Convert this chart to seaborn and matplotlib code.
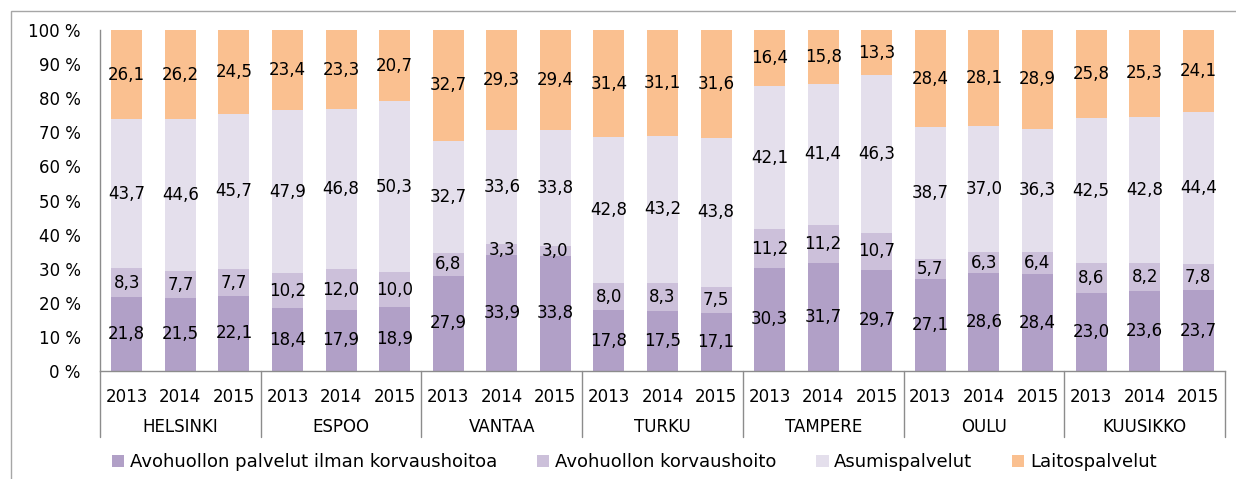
import pandas as pd
import matplotlib.pyplot as plt
import seaborn as sns
from matplotlib.patches import Rectangle
from matplotlib.lines import Line2D

# --- Data ---
cities = ["HELSINKI", "ESPOO", "VANTAA", "TURKU", "TAMPERE", "OULU", "KUUSIKKO"]
years = ["2013", "2014", "2015"]

avohuolto = [21.8, 21.5, 22.1, 18.4, 17.9, 18.9, 27.9, 33.9, 33.8, 17.8, 17.5, 17.1,
             30.3, 31.7, 29.7, 27.1, 28.6, 28.4, 23.0, 23.6, 23.7]
korvaushoito = [8.3, 7.7, 7.7, 10.2, 12.0, 10.0, 6.8, 3.3, 3.0, 8.0, 8.3, 7.5,
                11.2, 11.2, 10.7, 5.7, 6.3, 6.4, 8.6, 8.2, 7.8]
asumis = [43.7, 44.6, 45.7, 47.9, 46.8, 50.3, 32.7, 33.6, 33.8, 42.8, 43.2, 43.8,
          42.1, 41.4, 46.3, 38.7, 37.0, 36.3, 42.5, 42.8, 44.4]
laitos = [26.1, 26.2, 24.5, 23.4, 23.3, 20.7, 32.7, 29.3, 29.4, 31.4, 31.1, 31.6,
          16.4, 15.8, 13.3, 28.4, 28.1, 28.9, 25.8, 25.3, 24.1]

series_names = ["Avohuollon palvelut ilman korvaushoitoa", "Avohuollon korvaushoito",
                "Asumispalvelut", "Laitospalvelut"]
colors = ["#b1a0c7", "#ccc0da", "#e4dfec", "#fac090"]

df = pd.DataFrame({
    "key": [f"{c} {y}" for c in cities for y in years],
    "year": [y for c in cities for y in years],
    "s1": avohuolto, "s2": korvaushoito, "s3": asumis, "s4": laitos,
})
cols = ["s1", "s2", "s3", "s4"]
cum = df[cols].cumsum(axis=1)

# --- Plot ---
sns.set_style("white")
plt.rcParams["font.family"] = ["DejaVu Sans"]
plt.rcParams["text.color"] = "black"
plt.rcParams["xtick.color"] = "black"
plt.rcParams["ytick.color"] = "black"
FS = 12

fig = plt.figure(figsize=(12.36, 4.79), dpi=100)
ax = fig.add_axes([100 / 1236, 1 - 371 / 479, 1125 / 1236, 341 / 479])

# stacked bars: draw cumulative totals from the top series down
for i in range(3, -1, -1):
    sns.barplot(x=df["key"], y=cum[cols[i]], color=colors[i], width=0.58,
                saturation=1, linewidth=0, errorbar=None, ax=ax)

# value labels in the middle of each segment
for j in range(len(df)):
    bottom = 0
    for c in cols:
        v = df[c].iloc[j]
        ax.text(j, bottom + v / 2, f"{v:.1f}".replace(".", ","), ha="center",
                va="center", fontsize=FS, color="black")
        bottom += v

ax.set_xlim(-0.5, len(df) - 0.5)
ax.set_ylim(0, 100)
ax.set_yticks(range(0, 101, 10))
ax.set_yticklabels([f"{t} %" for t in range(0, 101, 10)], fontsize=FS)
ax.set_xticks(range(len(df)))
ax.set_xticklabels(df["year"], fontsize=FS)
ax.tick_params(axis="y", length=0, pad=14)
ax.tick_params(axis="x", length=0, pad=12)
ax.set_xlabel("")
ax.set_ylabel("")

for side in ["top", "right"]:
    ax.spines[side].set_visible(False)
for side in ["left", "bottom"]:
    ax.spines[side].set_color("#8c8c8c")
    ax.spines[side].set_linewidth(1)

# group separators and city labels below the axis
sep_depth = -66 / 341
for k in range(len(cities) + 1):
    xpos = k * 3 - 0.5
    ax.add_line(Line2D([xpos, xpos], [0, sep_depth], color="#8c8c8c", lw=1,
                       transform=ax.get_xaxis_transform(), clip_on=False))
for k, c in enumerate(cities):
    ax.text(k * 3 + 1, -56 / 341, c, ha="center", va="center", fontsize=FS,
            transform=ax.get_xaxis_transform())

# legend
handles = [Rectangle((0, 0), 1, 1, facecolor=col, edgecolor="none") for col in colors]
fig.legend(handles, series_names, loc="center", bbox_to_anchor=(0.513, 0.035),
           ncol=4, frameon=False, fontsize=13, handlelength=0.7, handleheight=0.7,
           handletextpad=0.3, columnspacing=2.2)

# outer chart border
fig.add_artist(Rectangle((10.5 / 1236, -0.05), 1.1, 1 - 10.5 / 479 + 0.05,
                         transform=fig.transFigure, fill=False,
                         edgecolor="#a6a6a6", lw=1))

plt.savefig("out.png", dpi=100)
plt.close()
